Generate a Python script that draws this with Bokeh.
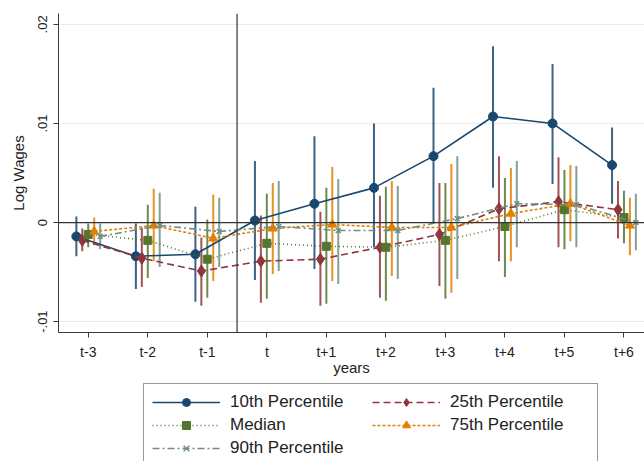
from bokeh.plotting import figure
from bokeh.layouts import column
from bokeh.models import Range1d, FixedTicker, Span, Legend, LegendItem
from bokeh.embed import file_html
from bokeh.resources import INLINE

# ---------------- data ----------------
years = [-3, -2, -1, 0, 1, 2, 3, 4, 5, 6]
tick_labels = ["t-3", "t-2", "t-1", "t", "t+1", "t+2", "t+3", "t+4", "t+5", "t+6"]

p10 = [-0.0014, -0.0034, -0.0032, 0.0002, 0.0019, 0.0035, 0.0067, 0.0107, 0.0100, 0.0058]
p10_lo = [-0.0034, -0.0067, -0.0080, -0.0058, -0.0047, -0.0025, 0.0000, 0.0035, 0.0039, 0.0019]
p10_hi = [0.0006, -0.0001, 0.0016, 0.0062, 0.0087, 0.0100, 0.0136, 0.0178, 0.0160, 0.0096]

p25 = [-0.0018, -0.0036, -0.0049, -0.0039, -0.0037, -0.0025, -0.0012, 0.0014, 0.0021, 0.0013]
p25_lo = [-0.0029, -0.0065, -0.0084, -0.0081, -0.0084, -0.0076, -0.0064, -0.0039, -0.0025, -0.0016]
p25_hi = [-0.0006, -0.0005, -0.0015, 0.0007, 0.0011, 0.0027, 0.0040, 0.0067, 0.0066, 0.0042]

p50 = [-0.0012, -0.0018, -0.0037, -0.0021, -0.0024, -0.0025, -0.0018, -0.0004, 0.0013, 0.0005]
p50_lo = [-0.0025, -0.0056, -0.0076, -0.0077, -0.0082, -0.0079, -0.0077, -0.0055, -0.0027, -0.0021]
p50_hi = [-0.0001, 0.0018, 0.0003, 0.0029, 0.0035, 0.0036, 0.0040, 0.0045, 0.0053, 0.0032]

p75 = [-0.0009, -0.0003, -0.0016, -0.0006, -0.0002, -0.0005, -0.0005, 0.0009, 0.0019, -0.0003]
p75_lo = [-0.0023, -0.0039, -0.0059, -0.0052, -0.0059, -0.0054, -0.0071, -0.0039, -0.0019, -0.0033]
p75_hi = [0.0005, 0.0034, 0.0028, 0.0040, 0.0056, 0.0042, 0.0059, 0.0055, 0.0058, 0.0025]

p90 = [-0.0014, -0.0003, -0.0009, -0.0004, -0.0008, -0.0008, 0.0004, 0.0019, 0.0018, 0.0000]
p90_lo = [-0.0027, -0.0045, -0.0045, -0.0049, -0.0062, -0.0057, -0.0057, -0.0025, -0.0025, -0.0028]
p90_hi = [-0.0001, 0.0030, 0.0025, 0.0042, 0.0044, 0.0037, 0.0067, 0.0062, 0.0057, 0.0029]

series_names = ["10th Percentile", "25th Percentile", "Median", "75th Percentile", "90th Percentile"]

# ---------------- style ----------------
FONT = "Liberation Sans"
AX = "#3a3a3a"
TXT = "#222222"
styles = [
    dict(color="#1a476f", dash="solid", marker="circle", size=9, off=-0.2),
    dict(color="#90353b", dash="7 4", marker="diamond", size=12, off=-0.1),
    dict(color="#55752f", dash="1 3", marker="square", size=8, off=0.0),
    dict(color="#e37e00", dash="3 2", marker="triangle", size=9, off=0.1),
    dict(color="#6e8e84", dash="7 3 2 3", marker="x", size=7, off=0.2),
]
series = [(p10, p10_lo, p10_hi), (p25, p25_lo, p25_hi), (p50, p50_lo, p50_hi),
          (p75, p75_lo, p75_hi), (p90, p90_lo, p90_hi)]


def draw_series(fig, xs, mid, st):
    lr = fig.line(xs, mid, line_color=st["color"], line_width=1.6, line_dash=st["dash"])
    if st["marker"] == "x":
        sr = fig.scatter(xs, mid, marker="x", size=st["size"], line_color=st["color"], line_width=1.5)
    else:
        sr = fig.scatter(xs, mid, marker=st["marker"], size=st["size"], fill_color=st["color"],
                         line_color=st["color"])
    return lr, sr


# ---------------- main plot ----------------
p = figure(width=644, height=383, output_backend="svg", toolbar_location=None,
           x_range=Range1d(-3.5, 6.345), y_range=Range1d(-0.0111, 0.0211),
           min_border_left=58, min_border_right=0, min_border_top=13, min_border_bottom=51,
           background_fill_color="white", border_fill_color="white")
p.outline_line_color = None

p.xgrid.visible = False
p.ygrid.grid_line_color = "#ececec"
p.ygrid.grid_line_width = 1
p.ygrid.ticker = FixedTicker(ticks=[-0.01, 0.01, 0.02])

p.xaxis.ticker = FixedTicker(ticks=years)
p.xaxis.major_label_overrides = {y: l for y, l in zip(years, tick_labels)}
p.yaxis.ticker = FixedTicker(ticks=[-0.01, 0, 0.01, 0.02])
p.yaxis.major_label_overrides = {-0.01: "-.01", 0: "0", 0.01: ".01", 0.02: ".02"}
p.yaxis.major_label_orientation = "vertical"
p.xaxis.axis_label = "years"
p.yaxis.axis_label = "Log Wages"
for ax in (p.xaxis, p.yaxis):
    ax.axis_line_color = AX
    ax.major_tick_line_color = AX
    ax.major_tick_out = 5
    ax.major_tick_in = 0
    ax.minor_tick_line_color = None
    ax.major_label_text_font = FONT
    ax.major_label_text_color = TXT
    ax.axis_label_text_font = FONT
    ax.axis_label_text_font_style = "normal"
    ax.axis_label_text_color = TXT
p.xaxis.major_label_text_font_size = "14px"
p.yaxis.major_label_text_font_size = "13px"
p.xaxis.axis_label_text_font_size = "15px"
p.yaxis.axis_label_text_font_size = "15px"
p.xaxis.major_label_standoff = 6
p.xaxis.axis_label_standoff = -4
p.yaxis.major_label_standoff = 6
p.yaxis.axis_label_standoff = 9

p.add_layout(Span(location=0, dimension="width", line_color="#333333", line_width=1.2))
p.add_layout(Span(location=-0.5, dimension="height", line_color="#333333", line_width=1.2))

for (mid, lo, hi), st in zip(series, styles):
    xs = [y + st["off"] for y in years]
    p.segment(x0=xs, y0=lo, x1=xs, y1=hi, line_color=st["color"], line_width=2, line_alpha=0.85)
for (mid, lo, hi), st in zip(series, styles):
    xs = [y + st["off"] for y in years]
    draw_series(p, xs, mid, st)

# ---------------- legend strip ----------------
# proxy renderers (same series, drawn outside this strip's visible range) for the legend keys
lg = figure(width=644, height=78, output_backend="svg", toolbar_location=None,
            x_range=Range1d(-3.5, 6.345), y_range=Range1d(1, 2),
            x_axis_location=None, y_axis_location=None,
            min_border_left=0, min_border_right=0, min_border_top=0, min_border_bottom=0,
            background_fill_color="white", border_fill_color="white")
lg.outline_line_color = None
lg.grid.visible = False

items = {}
for name, (mid, lo, hi), st in zip(series_names, series, styles):
    xs = [y + st["off"] for y in years]
    lr, sr = draw_series(lg, xs, mid, st)
    items[name] = LegendItem(label=name, renderers=[lr, sr])

# column-major fill: left column 10th, Median, 90th; right column 25th, 75th
order = ["10th Percentile", "Median", "90th Percentile", "25th Percentile", "75th Percentile"]
legend = Legend(items=[items[n] for n in order], ncols=2, orientation="vertical",
                location=(85, -6),
                label_text_font=FONT, label_text_font_size="17px", label_text_color=TXT,
                glyph_width=68, glyph_height=20, label_height=20, label_width=139,
                label_standoff=10, spacing=3, padding=8, margin=0,
                border_line_color="#333333", border_line_width=1,
                background_fill_color="white")
lg.add_layout(legend)

open("out.html", "w").write(file_html(column(p, lg, spacing=0), INLINE))
